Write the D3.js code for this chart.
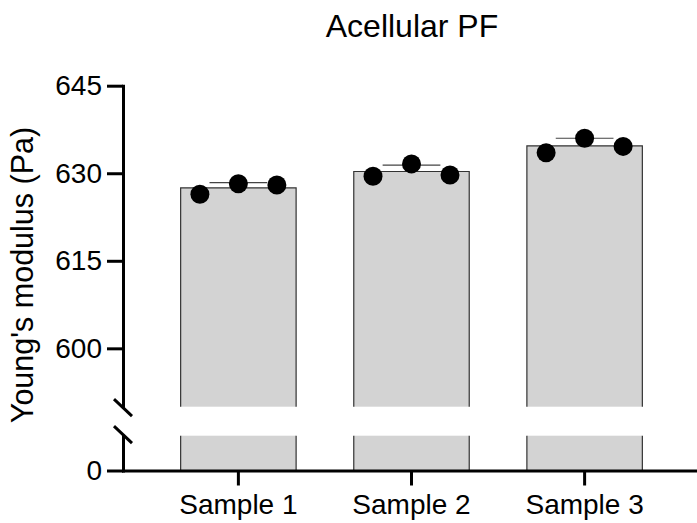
<!DOCTYPE html>
<html>
<head>
<meta charset="utf-8">
<script src="https://cdn.jsdelivr.net/npm/d3@7"></script>
<style>
  body { margin: 0; background: #fff; }
  text { font-family: "Liberation Sans", Arial, sans-serif; fill: #000; }
</style>
</head>
<body>
<script>
// values
const samples = ["Sample 1", "Sample 2", "Sample 3"];
const means = [627.5, 630.3, 634.7];
const sds = [0.9, 1.1, 1.3];
const replicates = [
  [626.4, 628.2, 628.0],
  [629.5, 631.6, 629.7],
  [633.5, 636.0, 634.6]
];
const upperTicks = [600, 615, 630, 645];
const lowerTicks = [0];

const width = 697, height = 523;
const axisX = 123, axisY = 470.5;

const svg = d3.select("body").append("svg")
  .attr("width", width)
  .attr("height", height);

// two y segments (broken axis)
const yTop = d3.scaleLinear().domain([590, 645]).range([406.7, 85.7]);
const yBottom = d3.scaleLinear().domain([0, 10]).range([axisY, 435.7]);

const x = d3.scaleBand()
  .domain(samples)
  .range([axisX, 700])
  .paddingInner(0.333)
  .paddingOuter(0.333);

const bw = x.bandwidth();

// bars: upper and lower pieces
samples.forEach(function(s, i) {
  const x0 = x(s), x1 = x(s) + bw;
  const top = yTop(means[i]);
  svg.append("rect")
    .attr("x", x0).attr("y", top)
    .attr("width", bw).attr("height", yTop(590) - top)
    .attr("fill", "#d3d3d3");
  svg.append("rect")
    .attr("x", x0).attr("y", yBottom(10))
    .attr("width", bw).attr("height", yBottom(0) - yBottom(10))
    .attr("fill", "#d3d3d3");

  const outline = "#333";
  svg.append("path")
    .attr("d", "M" + x0 + "," + yTop(590) + "V" + top + "H" + x1 + "V" + yTop(590))
    .attr("fill", "none").attr("stroke", outline).attr("stroke-width", 1.2);
  svg.append("path")
    .attr("d", "M" + x0 + "," + yBottom(0) + "V" + yBottom(10) +
               "M" + x1 + "," + yBottom(10) + "V" + yBottom(0))
    .attr("fill", "none").attr("stroke", outline).attr("stroke-width", 1.2);
});

// error bars (SD, upper half visible)
samples.forEach(function(s, i) {
  const cx = x(s) + bw / 2;
  const yMean = yTop(means[i]), yErr = yTop(means[i] + sds[i]);
  svg.append("path")
    .attr("d", "M" + cx + "," + yMean + "V" + yErr +
               "M" + (cx - bw / 4) + "," + yErr + "H" + (cx + bw / 4))
    .attr("fill", "none").attr("stroke", "#444").attr("stroke-width", 1.2);
});

// replicate points
samples.forEach(function(s, i) {
  const cx = x(s) + bw / 2;
  svg.selectAll(null)
    .data(replicates[i])
    .enter()
    .append("circle")
    .attr("cx", function(d, j) { return cx + (j - 1) * bw / 3; })
    .attr("cy", function(d) { return yTop(d); })
    .attr("r", 9.5)
    .attr("fill", "#000");
});

// y axis, upper segment
const gTop = svg.append("g")
  .attr("transform", "translate(" + axisX + ",0)")
  .call(d3.axisLeft(yTop).tickValues(upperTicks).tickSize(16).tickSizeOuter(0).tickPadding(5));

// y axis, lower segment
const gBottom = svg.append("g")
  .attr("transform", "translate(" + axisX + ",0)")
  .call(d3.axisLeft(yBottom).tickValues(lowerTicks).tickSize(16).tickSizeOuter(0).tickPadding(5));

// x axis
const gX = svg.append("g")
  .attr("transform", "translate(0," + axisY + ")")
  .call(d3.axisBottom(x).tickSize(15).tickSizeOuter(0).tickPadding(9));

[gTop, gBottom, gX].forEach(function(g) {
  g.select(".domain").attr("stroke", "#000").attr("stroke-width", 3).attr("stroke-linecap", "square");
  g.selectAll(".tick line").attr("stroke", "#000").attr("stroke-width", 3);
  g.selectAll(".tick text").attr("font-family", "Liberation Sans, Arial, sans-serif").attr("fill", "#000");
});
gTop.selectAll(".tick text").attr("font-size", "28px");
gBottom.selectAll(".tick text").attr("font-size", "28px");
gX.selectAll(".tick text").attr("font-size", "28px");

// break marks
[yTop(590) + 1, yBottom(10) - 1].forEach(function(yb) {
  svg.append("line")
    .attr("x1", axisX - 9).attr("y1", yb - 8.5)
    .attr("x2", axisX + 9).attr("y2", yb + 8.5)
    .attr("stroke", "#000").attr("stroke-width", 3);
});

// title
svg.append("text")
  .attr("x", 412).attr("y", 37)
  .attr("text-anchor", "middle")
  .attr("font-size", "32px")
  .text("Acellular PF");

// y axis title
svg.append("text")
  .attr("transform", "translate(33,275) rotate(-90)")
  .attr("text-anchor", "middle")
  .attr("font-size", "30.5px")
  .text("Young's modulus (Pa)");
</script>
</body>
</html>
